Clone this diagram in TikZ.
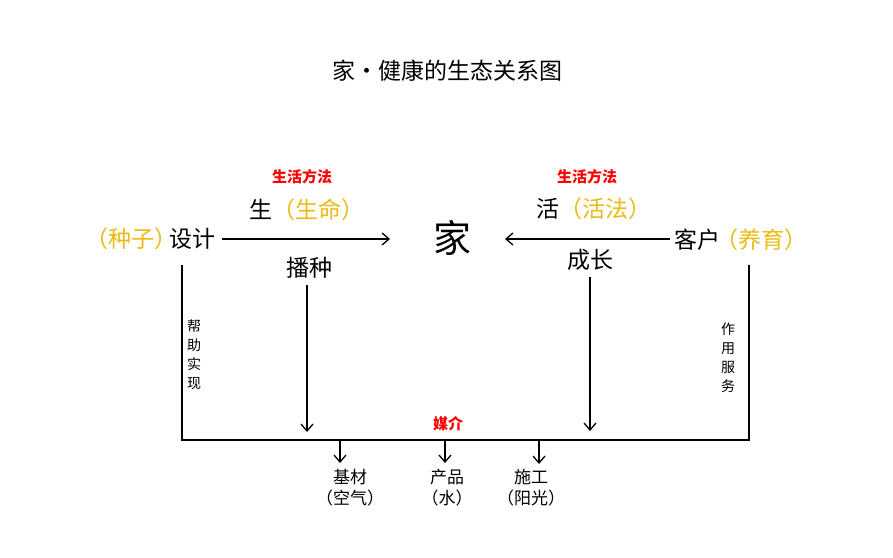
\documentclass[tikz,border=0pt]{standalone}
\usepackage{fontspec}
\setmainfont{Noto Sans CJK SC}
\usetikzlibrary{arrows.meta}
\definecolor{gold}{RGB}{236,186,18}
\definecolor{redlab}{RGB}{255,0,0}
\tikzset{
  lbl/.style={inner sep=0pt, font=\fontsize{23}{26}\selectfont},
  redl/.style={inner sep=0pt, text=redlab, font=\fontsize{15}{17}\selectfont\bfseries},
  small/.style={inner sep=0pt, font=\fontsize{17}{21}\selectfont, align=center},
  vert/.style={inner sep=0pt, font=\fontsize{14}{19}\selectfont, align=center},
  conn/.style={line width=1.1pt, draw=black},
  arr/.style={conn, -{Straight Barb[length=7pt,width=12pt,line width=1.3pt]}},
}
\begin{document}
\begin{tikzpicture}[x=1pt,y=-1pt]
\useasboundingbox (0,0) rectangle (893,557);
\node[inner sep=0pt, font=\fontsize{23}{26}\selectfont] (title) at (447,71) {家·健康的生态关系图};

\node[lbl, anchor=east] (sheji) at (216,239) {\textcolor{gold}{（种子）}\kern-0.35em设计};
\node[inner sep=0pt, font=\fontsize{38}{42}\selectfont] (jia) at (452,238) {家};
\node[lbl, anchor=west] (kehu) at (674,240) {客户\kern-0.2em\textcolor{gold}{（养育）}};

\node[redl] (fa1) at (302,177) {生活方法};
\node[lbl, anchor=west] (sheng) at (249,210) {生\textcolor{gold}{（生命）}};
\node[lbl] (bozhong) at (309,268) {播种};

\node[redl] (fa2) at (587,177) {生活方法};
\node[lbl, anchor=west] (huo) at (536,209) {活\textcolor{gold}{（活法）}};
\node[lbl] (chengzhang) at (590,260) {成长};

\draw[arr] (222,239) coordinate (a1) -- (390,239) coordinate (a2);
\draw[arr] (670,239) coordinate (b1) -- (505,239) coordinate (b2);

% frame
\coordinate (fl) at (182,265);
\coordinate (fbl) at (182,440);
\coordinate (fbr) at (749,440);
\coordinate (fr) at (749,265);
\draw[conn] (fl) -- (fbl) -- (fbr) -- (fr);

\node[vert] (bang) at (194,355) {帮\\助\\实\\现};
\node[vert] (zuo) at (728,358) {作\\用\\服\\务};

\coordinate (c1) at (307,432);
\coordinate (c2) at (590,431);
\draw[arr] (307,285) -- (c1);
\draw[arr] (590,277) -- (c2);

\node[redl] (meijie) at (448,424) {媒介};

\node[small] (jicai) at (350,488) {基材\\（空气）};
\node[small] (chanpin) at (447,488) {产品\\（水）};
\node[small] (shigong) at (531,488) {施工\\（阳光）};

\draw[arr] (340,440) -- (340,463) coordinate (d1);
\draw[arr] (445,440) -- (445,463) coordinate (d2);
\draw[arr] (539,440) -- (539,464) coordinate (d3);
\end{tikzpicture}
\end{document}
